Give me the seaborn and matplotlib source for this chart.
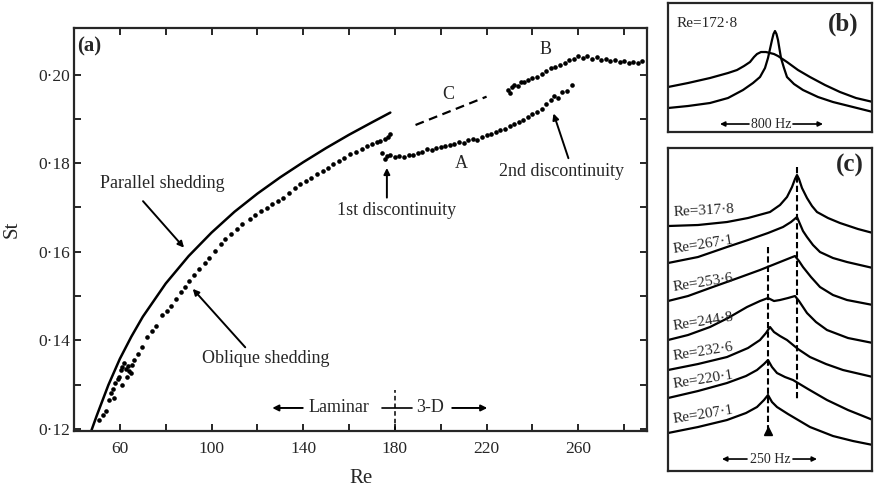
import numpy as np
import pandas as pd
import matplotlib
matplotlib.use('Agg')
import matplotlib.pyplot as plt
import seaborn as sns
from matplotlib.ticker import FixedLocator, FuncFormatter

sns.set_style('ticks')
plt.rcParams['font.family'] = ['Liberation Serif', 'DejaVu Serif']

# ---- panel (a): St vs Re ----
par_re = [47.5, 50, 55, 60, 65, 70, 80, 90, 100, 110, 120, 130, 140, 150, 160, 170, 178]
par_st = [0.1195, 0.1231, 0.1299, 0.1358, 0.1408, 0.1453, 0.1528, 0.1590, 0.1643, 0.1690,
          0.1731, 0.1768, 0.1802, 0.1834, 0.1864, 0.1892, 0.1914]

obl_re = [50.9, 52.5, 53.8, 55.3, 56.0, 57.0, 57.5, 57.9, 59.0, 59.7, 60.5, 60.8, 61.0, 61.8,
          62.5, 63.0, 63.5, 64.0, 64.8, 65.5, 66.2, 68, 69.7, 71.9, 74, 75.7, 78.6, 80.5, 82.2,
          84.5, 86.6, 88.5, 90.2, 92.5, 94.6, 97, 99, 101.5, 104, 106, 108.4, 111, 113.5, 116.9,
          119, 121.5, 124.1, 126.5, 129, 131.3, 134, 136.5, 138.7, 141, 143.5, 146, 148.5, 151,
          153.1, 155.5, 158, 160.5, 163, 165.5, 167.8, 170, 172, 173.6, 175.5, 177, 178]
obl_st = [0.1220, 0.1232, 0.1241, 0.1265, 0.1280, 0.1290, 0.1270, 0.1303, 0.1312, 0.1317,
          0.1332, 0.1300, 0.1339, 0.1348, 0.1336, 0.1318, 0.1342, 0.1330, 0.1325, 0.1345,
          0.1355, 0.1370, 0.1384, 0.1407, 0.1420, 0.1433, 0.1456, 0.1467, 0.1478, 0.1494,
          0.1508, 0.1521, 0.1534, 0.1548, 0.1561, 0.1574, 0.1586, 0.1601, 0.1617, 0.1628,
          0.1640, 0.1652, 0.1663, 0.1674, 0.1683, 0.1691, 0.1699, 0.1707, 0.1715, 0.1722,
          0.1733, 0.1743, 0.1752, 0.1759, 0.1767, 0.1775, 0.1783, 0.1790, 0.1797, 0.1805,
          0.1812, 0.1820, 0.1826, 0.1832, 0.1838, 0.1843, 0.1847, 0.1849, 0.1855, 0.1860, 0.1865]

a_re = [174.5, 175.5, 176.5, 178, 180, 182, 184, 186, 188, 190, 192, 194, 196, 198, 200, 202,
        204, 206, 208, 210, 212, 214, 216, 218, 220, 222, 224, 226, 228, 230, 232, 234, 236,
        238, 240, 242, 244, 246, 248, 249.5, 251, 253, 255, 257.3]
a_st = [0.1822, 0.1809, 0.1815, 0.1818, 0.1814, 0.1817, 0.1814, 0.1819, 0.1818, 0.1823,
        0.1825, 0.1831, 0.1829, 0.1834, 0.1836, 0.1838, 0.1841, 0.1843, 0.1848, 0.1846,
        0.1851, 0.1855, 0.1852, 0.1860, 0.1863, 0.1866, 0.1870, 0.1874, 0.1878, 0.1883,
        0.1888, 0.1893, 0.1897, 0.1903, 0.1910, 0.1916, 0.1923, 0.1933, 0.1943, 0.1952,
        0.1948, 0.1960, 0.1963, 0.1977]

b_re = [229.5, 230.4, 231.2, 232, 233.5, 235, 236.5, 238, 240, 242, 244, 246, 248, 250, 252,
        254, 256, 258, 260, 262, 264, 266, 268, 270, 272, 274, 276, 278, 280, 282, 284, 286, 288]
b_st = [0.1965, 0.1958, 0.1972, 0.1977, 0.1974, 0.1984, 0.1982, 0.1988, 0.1991, 0.1995,
        0.2001, 0.2008, 0.2014, 0.2018, 0.2022, 0.2027, 0.2033, 0.2036, 0.2041, 0.2038,
        0.2042, 0.2036, 0.2039, 0.2033, 0.2036, 0.2030, 0.2033, 0.2028, 0.2030, 0.2025,
        0.2028, 0.2025, 0.2030]

c_re = [189, 220]
c_st = [0.1886, 0.1950]

x_major = [60, 100, 140, 180, 220, 260]
y_major = [0.12, 0.14, 0.16, 0.18, 0.20]

# ---- panel (b): spectra at Re=172.8 (arbitrary units) ----
b_broad_f = [0, 20, 42, 60, 69, 76, 82, 86, 89, 93, 98, 102, 106, 110, 119, 130, 142, 157,
             172, 188, 205]
b_broad_a = [45, 49, 54, 59, 62, 66, 70, 75, 78, 80, 80, 79, 78, 76, 70, 62, 55, 47, 40, 34, 30]
b_sharp_f = [0, 20, 42, 60, 75, 85, 92, 97, 100, 102, 104, 105.5, 107, 108.5, 110, 111.5,
             113, 116, 119, 126, 135, 150, 165, 185, 205]
b_sharp_a = [24, 26, 29, 34, 42, 49, 55, 64, 74, 83, 92, 98, 101, 98, 92, 83, 74, 64, 55,
             48, 42, 35, 30, 25, 20]

# ---- panel (c): spectra, several Re (arbitrary units) ----
c_labels = ['Re=317·8', 'Re=267·1', 'Re=253·6', 'Re=244·8', 'Re=232·6', 'Re=220·1', 'Re=207·1']
c_f = [
    [0, 30, 59, 80, 102, 112, 119, 124, 127, 129, 131, 134, 139, 144, 149, 160, 172, 190, 205],
    [0, 30, 59, 80, 100, 115, 123, 129, 132, 135, 139, 145, 152, 165, 179, 205],
    [0, 20, 42, 70, 92, 112, 122, 127, 131, 135, 143, 152, 165, 179, 205],
    [0, 20, 42, 60, 79, 92, 100, 106, 112, 120, 127, 131, 139, 148, 159, 180, 205],
    [0, 30, 59, 80, 92, 98, 102, 106, 112, 119, 130, 142, 158, 175, 205],
    [0, 30, 59, 78, 89, 96, 100, 104, 109, 117, 125, 140, 159, 180, 205],
    [0, 30, 59, 78, 89, 96, 100, 104, 109, 120, 142, 165, 185, 205],
]
c_a = [
    [245, 246, 249, 253, 259, 266, 274, 284, 292, 296, 292, 283, 273, 265, 259, 253, 248, 242, 238],
    [208, 214, 224, 231, 238, 244, 249, 254, 247, 240, 234, 226, 219, 213, 209, 203],
    [170, 175, 183, 193, 201, 209, 213, 215, 210, 204, 194, 184, 176, 171, 166],
    [131, 136, 144, 153, 164, 170, 173, 170, 171, 173, 175, 170, 158, 149, 141, 133, 128],
    [101, 107, 114, 123, 131, 138, 144, 139, 135, 131, 122, 114, 107, 101, 94],
    [73, 80, 88, 95, 101, 107, 111, 104, 98, 94, 91, 82, 71, 61, 51],
    [38, 44, 51, 58, 64, 71, 76, 69, 64, 57, 44, 35, 30, 26],
]
c_rot = [3, 9, 9, 9, 9, 9, 9]

fig = plt.figure(figsize=(8.74, 4.88), dpi=100)

# ================= (a) =================
ax = fig.add_axes([0.0847, 0.1168, 0.6556, 0.8258])
sns.lineplot(x=par_re, y=par_st, ax=ax, color='k', lw=1.8, sort=False, estimator=None)
sns.lineplot(x=c_re, y=c_st, ax=ax, color='k', lw=1.6, sort=False, estimator=None,
             linestyle=(0, (4, 2.5)))
pts = pd.DataFrame({'Re': obl_re + a_re + b_re, 'St': obl_st + a_st + b_st})
sns.scatterplot(data=pts, x='Re', y='St', ax=ax, color='k', s=11, linewidth=0)

ax.set_xlim(40, 290)
ax.set_ylim(0.1195, 0.2105)
ax.xaxis.set_major_locator(FixedLocator(x_major))
ax.xaxis.set_minor_locator(FixedLocator([80, 120, 160, 200, 240, 280]))
ax.yaxis.set_major_locator(FixedLocator(y_major))
ax.yaxis.set_minor_locator(FixedLocator([0.13, 0.15, 0.17, 0.19]))
ax.xaxis.set_major_formatter(FuncFormatter(lambda v, p: '%d' % v))
ax.yaxis.set_major_formatter(FuncFormatter(lambda v, p: ('%.2f' % v).replace('.', '·')))
ax.tick_params(which='both', direction='in', top=True, right=True, width=1.4,
               labelsize=12.5, length=5)
ax.tick_params(axis='x', pad=7)
ax.tick_params(axis='y', pad=3)
for s in ax.spines.values():
    s.set_linewidth(1.6)
ax.set_xlabel('Re', fontsize=15, labelpad=9)
ax.set_ylabel('St', fontsize=15, labelpad=12)

ax.text(41.5, 0.2085, '(a)', fontsize=15, fontweight='bold', va='top', ha='left')
ax.text(78.4, 0.1755, 'Parallel shedding', fontsize=13, ha='center', va='center')
ax.text(123.8, 0.1359, 'Oblique shedding', fontsize=13, ha='center', va='center')
ax.text(180.8, 0.1692, '1st discontinuity', fontsize=13, ha='center', va='center')
ax.text(252.7, 0.1782, '2nd discontinuity', fontsize=13, ha='center', va='center')
ax.text(209, 0.1800, 'A', fontsize=13, ha='center', va='center')
ax.text(245.7, 0.2056, 'B', fontsize=13, ha='center', va='center')
ax.text(203.3, 0.1955, 'C', fontsize=13, ha='center', va='center')

arr = dict(arrowstyle='-|>', lw=1.4, color='k', mutation_scale=9, shrinkA=0, shrinkB=0)
ax.annotate('', xy=(88, 0.1609), xytext=(70.1, 0.1714), arrowprops=arr)
ax.annotate('', xy=(91.8, 0.1516), xytext=(114.7, 0.1384), arrowprops=arr)
ax.annotate('', xy=(176.5, 0.1789), xytext=(176.5, 0.1722), arrowprops=arr)
ax.annotate('', xy=(249.2, 0.1912), xytext=(255.7, 0.1811), arrowprops=arr)

# laminar / 3-D marker
ax.text(155.5, 0.1247, 'Laminar', fontsize=13, ha='center', va='center')
ax.text(195.3, 0.1247, '3-D', fontsize=13, ha='center', va='center')
ax.annotate('', xy=(126.5, 0.1247), xytext=(139.8, 0.1247), arrowprops=arr)
ax.annotate('', xy=(220.3, 0.1247), xytext=(205, 0.1247), arrowprops=arr)
ax.plot([174.5, 187.6], [0.1247, 0.1247], color='k', lw=1.2)
ax.plot([180, 180], [0.1195, 0.1287], color='k', lw=1.1, linestyle=(0, (3, 2)))

# ================= (b) =================
axb = fig.add_axes([0.7643, 0.7295, 0.2334, 0.2643])
sns.lineplot(x=b_broad_f, y=b_broad_a, ax=axb, color='k', lw=1.6, sort=False, estimator=None)
sns.lineplot(x=b_sharp_f, y=b_sharp_a, ax=axb, color='k', lw=1.6, sort=False, estimator=None)
axb.set_xlim(0, 204)
axb.set_ylim(0, 129)
axb.set_xticks([])
axb.set_yticks([])
for s in axb.spines.values():
    s.set_linewidth(1.6)
axb.text(9, 109, 'Re=172·8', fontsize=11, ha='left', va='center')
axb.text(175, 108, '(b)', fontsize=18, fontweight='bold', ha='center', va='center')
axb.text(103, 8, '800 Hz', fontsize=10, ha='center', va='center')
arr2 = dict(arrowstyle='-|>', lw=1.2, color='k', mutation_scale=7, shrinkA=0, shrinkB=0)
axb.annotate('', xy=(52, 8), xytext=(81, 8), arrowprops=arr2)
axb.annotate('', xy=(155, 8), xytext=(125, 8), arrowprops=arr2)

# ================= (c) =================
axc = fig.add_axes([0.7643, 0.0348, 0.2334, 0.6619])
for f, a, lab, r in zip(c_f, c_a, c_labels, c_rot):
    sns.lineplot(x=f, y=a, ax=axc, color='k', lw=1.6, sort=False, estimator=None)
    axc.text(6, a[0] + 7, lab, fontsize=11, ha='left', va='bottom', rotation=r,
             rotation_mode='anchor')
axc.plot([100, 100], [224, 40], color='k', lw=1.5, linestyle=(0, (3, 1.5)))
axc.plot([129, 129], [304, 71], color='k', lw=1.5, linestyle=(0, (3, 1.5)))
axc.plot([100], [40], marker='^', color='k', markersize=6)
axc.set_xlim(0, 204)
axc.set_ylim(0, 323)
axc.set_xticks([])
axc.set_yticks([])
for s in axc.spines.values():
    s.set_linewidth(1.6)
axc.text(182, 306, '(c)', fontsize=18, fontweight='bold', ha='center', va='center')
axc.text(102, 12, '250 Hz', fontsize=10, ha='center', va='center')
axc.annotate('', xy=(54, 12), xytext=(79, 12), arrowprops=arr2)
axc.annotate('', xy=(149, 12), xytext=(125, 12), arrowprops=arr2)

fig.savefig('out.png', dpi=100)
